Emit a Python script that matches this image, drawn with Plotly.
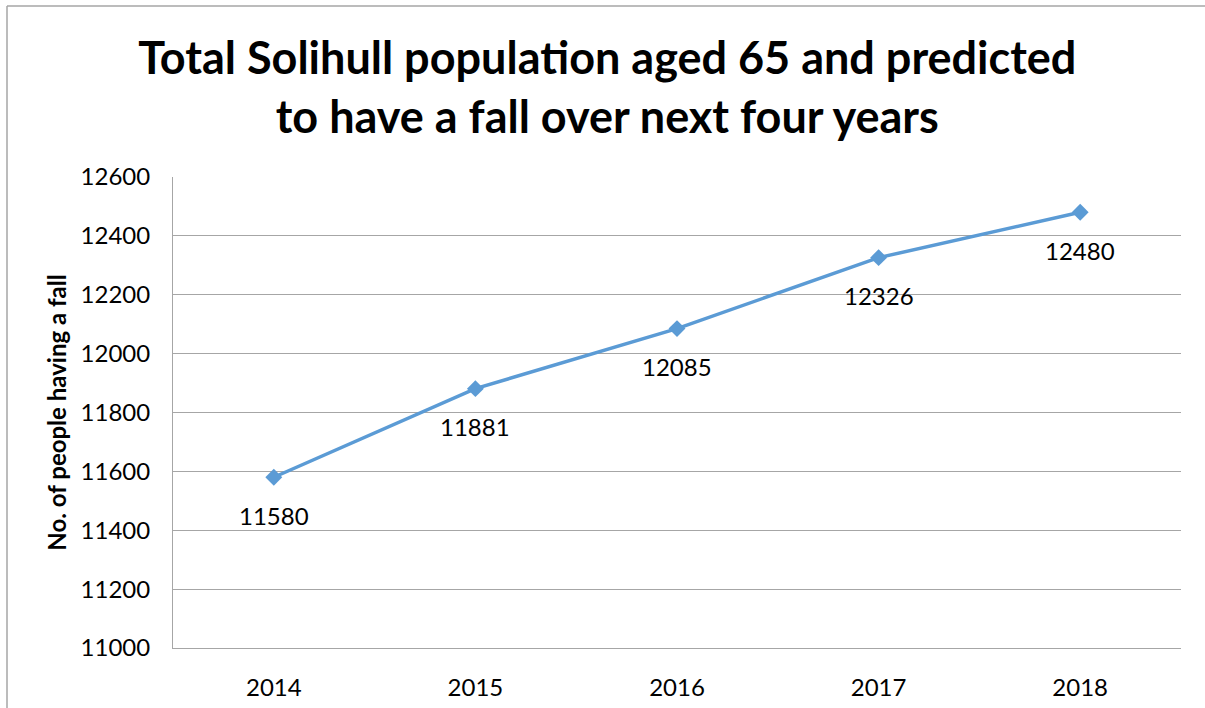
import plotly.graph_objects as go

years = ["2014", "2015", "2016", "2017", "2018"]
values = [11580, 11881, 12085, 12326, 12480]
y_ticks = [11000, 11200, 11400, 11600, 11800, 12000, 12200, 12400, 12600]

title_text = "Total Solihull population aged 65 and predicted<br>to have a fall over next four years"
y_title = "No. of people having a fall"

FONT = "Lato, Carlito, Calibri, sans-serif"
LINE = "#5B9BD5"
GRID = "#A6A6A6"

fig = go.Figure()
fig.add_trace(go.Scatter(
    x=years, y=values, mode="lines+markers",
    line=dict(color=LINE, width=3.5),
    marker=dict(symbol="diamond", size=13, color=LINE),
    hoverinfo="skip", showlegend=False,
))

for i, (xv, yv) in enumerate(zip(years, values)):
    fig.add_annotation(xref="x", yref="y", x=i, y=yv, text=str(yv), showarrow=False,
                       yshift=-38, font=dict(family=FONT, size=24, color="#000000"))

fig.update_layout(
    width=1205, height=708,
    margin=dict(l=173, r=24, t=177, b=60, autoexpand=False),
    paper_bgcolor="white", plot_bgcolor="white",
    title=dict(text=title_text, x=0.504, xanchor="center", y=0.895, yanchor="middle",
               font=dict(family=FONT, size=45, color="#000000", weight="bold")),
    font=dict(family=FONT, size=24, color="#000000"),
)
fig.update_xaxes(
    type="category", range=[-0.5, 4.5], showgrid=False, automargin=False,
    showline=True, linecolor=GRID, linewidth=1, ticks="",
    tickfont=dict(family=FONT, size=24), ticklabelstandoff=18, fixedrange=True,
)
fig.update_yaxes(
    range=[11000, 12600], tickvals=y_ticks, ticktext=[str(v) for v in y_ticks],
    showgrid=True, gridcolor=GRID, gridwidth=1, automargin=False,
    showline=True, linecolor=GRID, linewidth=1, ticks="", zeroline=False,
    tickfont=dict(family=FONT, size=24), ticklabelstandoff=17,
    title=dict(text=y_title, font=dict(family=FONT, size=24, weight="bold"), standoff=7),
    fixedrange=True,
)
# outer chart frame (only left and top edges are visible in the reference)
fx0 = (7 - 173) / 1008
fx1 = (1205 - 173) / 1008
fy_top = (648 - 6) / 471
fy_bot = (648 - 708) / 471
fig.add_shape(type="line", xref="paper", yref="paper",
              x0=fx0, x1=fx0, y0=fy_bot, y1=fy_top,
              line=dict(color=GRID, width=1.5), layer="below")
fig.add_shape(type="line", xref="paper", yref="paper",
              x0=fx0, x1=fx1, y0=fy_top, y1=fy_top,
              line=dict(color=GRID, width=1.5), layer="below")

fig.write_html("out.html", config={"displayModeBar": False},
               post_script="document.body.style.margin='0';document.body.style.overflow='hidden';document.documentElement.style.overflow='hidden';")
